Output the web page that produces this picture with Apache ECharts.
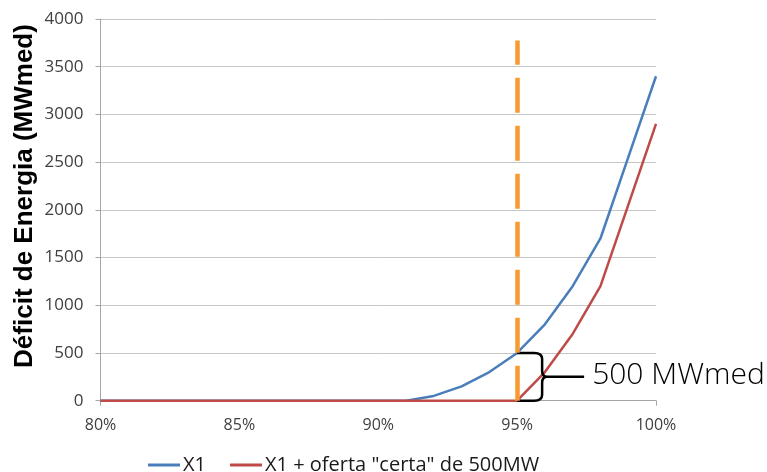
<!DOCTYPE html>
<html>
<head>
<meta charset="utf-8">
<script src="https://cdn.jsdelivr.net/npm/echarts@6/dist/echarts.min.js"></script>
<style>
  html, body { margin: 0; padding: 0; background: #ffffff; }
  #chart { width: 767px; height: 472px; }
</style>
</head>
<body>
<div id="chart"></div>
<script>
// Reliability level on the x axis (1% steps), energy deficit on the y axis
const categories = ['80%','81%','82%','83%','84%','85%','86%','87%','88%','89%','90%',
                    '91%','92%','93%','94%','95%','96%','97%','98%','99%','100%'];
const serieX1 = [0,0,0,0,0,0,0,0,0,0,0,0,50,150,300,500,800,1200,1700,2550,3400];
const serieX1Oferta = [0,0,0,0,0,0,0,0,0,0,0,0,0,0,0,0,300,700,1200,2050,2900];
const seriesNames = ['X1', 'X1 + oferta "certa" de 500MW'];
const yTicks = { min: 0, max: 4000, interval: 500 };

// Reference level (vertical dashed line) and the 500 MWmed gap bracket
const refLevel = '95%';
const refLineTop = 3775;
const gapBracket = [[categories.indexOf(refLevel), 0, 500]];
const gapLabel = '500 MWmed';

const FONT = '"Open Sans", "Liberation Sans", sans-serif';
const chart = echarts.init(document.getElementById('chart'), null, { renderer: 'canvas' });

function renderBracket(params, api) {
  const idx = api.value(0);
  const lo = api.coord([idx, api.value(1)]);
  const hi = api.coord([idx, api.value(2)]);
  const x0 = lo[0];
  const yT = hi[1], yB = lo[1], ym = (yT + yB) / 2;
  const w = 25;
  const sx = x0 + w;
  const d = [
    'M', x0, yT,
    'L', sx - 8, yT,
    'Q', sx, yT, sx, yT + 6,
    'L', sx, ym - 6,
    'Q', sx, ym, sx + 5, ym,
    'Q', sx, ym, sx, ym + 6,
    'L', sx, yB - 6,
    'Q', sx, yB, sx - 8, yB,
    'L', x0, yB,
    'M', sx + 5, ym,
    'L', x0 + 67, ym
  ].join(' ');
  return {
    type: 'group',
    children: [
      {
        type: 'path',
        shape: { pathData: d },
        style: { fill: null, stroke: '#000000', lineWidth: 2.5, lineJoin: 'round' }
      },
      {
        type: 'text',
        x: x0 + 75,
        y: ym - 1,
        style: {
          text: gapLabel,
          fill: '#000000',
          font: '300 30px ' + FONT,
          align: 'left',
          verticalAlign: 'middle'
        }
      }
    ]
  };
}

chart.setOption({
  animation: false,
  backgroundColor: '#ffffff',
  grid: { left: 100.5, right: 111, top: 19, bottom: 71.3, containLabel: false },
  legend: {
    left: 143,
    top: 450,
    icon: 'rect',
    itemWidth: 32,
    itemHeight: 3,
    itemGap: 24,
    data: seriesNames,
    textStyle: { fontFamily: FONT, fontSize: 20, color: '#1a1a1a', padding: [0, 0, 0, -2] }
  },
  xAxis: {
    type: 'category',
    data: categories,
    boundaryGap: false,
    axisLine: { show: true, lineStyle: { color: '#a6a6a6', width: 1 } },
    axisTick: {
      show: true,
      length: 5,
      interval: function (index) { return index === 0 || index === categories.length - 1; },
      lineStyle: { color: '#a6a6a6' }
    },
    axisLabel: {
      interval: 4,
      margin: 17,
      color: '#404040',
      fontFamily: FONT,
      fontSize: 16
    },
    splitLine: { show: false }
  },
  yAxis: {
    type: 'value',
    min: yTicks.min,
    max: yTicks.max,
    interval: yTicks.interval,
    axisLine: { show: true, lineStyle: { color: '#a6a6a6', width: 1 } },
    axisTick: { show: true, length: 5, lineStyle: { color: '#a6a6a6' } },
    axisLabel: {
      margin: 17,
      color: '#404040',
      fontFamily: FONT,
      fontSize: 17,
      formatter: function (v) { return String(v); }
    },
    splitLine: { show: true, lineStyle: { color: '#c6c6c6', width: 1 } }
  },
  graphic: [
    {
      type: 'text',
      x: 25,
      y: 196,
      rotation: Math.PI / 2,
      style: {
        text: 'Déficit de Energia (MWmed)',
        fill: '#000000',
        font: 'bold 26px "Liberation Sans", Arial, sans-serif',
        align: 'center',
        verticalAlign: 'middle'
      }
    }
  ],
  series: [
    {
      name: 'ref',
      type: 'line',
      data: [],
      z: 1,
      silent: true,
      markLine: {
        silent: true,
        symbol: ['none', 'none'],
        label: { show: false },
        lineStyle: { color: '#F99A31', width: 4.5, type: [35, 13] },
        data: [[{ xAxis: refLevel, yAxis: 0 }, { xAxis: refLevel, yAxis: refLineTop }]]
      }
    },
    {
      name: seriesNames[0],
      type: 'line',
      data: serieX1,
      symbol: 'none',
      z: 3,
      lineStyle: { color: '#4A7EBB', width: 2.5 },
      itemStyle: { color: '#4A7EBB' }
    },
    {
      name: seriesNames[1],
      type: 'line',
      data: serieX1Oferta,
      symbol: 'none',
      z: 3,
      lineStyle: { color: '#BE4B48', width: 2.5 },
      itemStyle: { color: '#BE4B48' }
    },
    {
      name: 'gap',
      type: 'custom',
      clip: false,
      silent: true,
      z: 4,
      renderItem: renderBracket,
      data: gapBracket
    }
  ]
});
</script>
</body>
</html>
